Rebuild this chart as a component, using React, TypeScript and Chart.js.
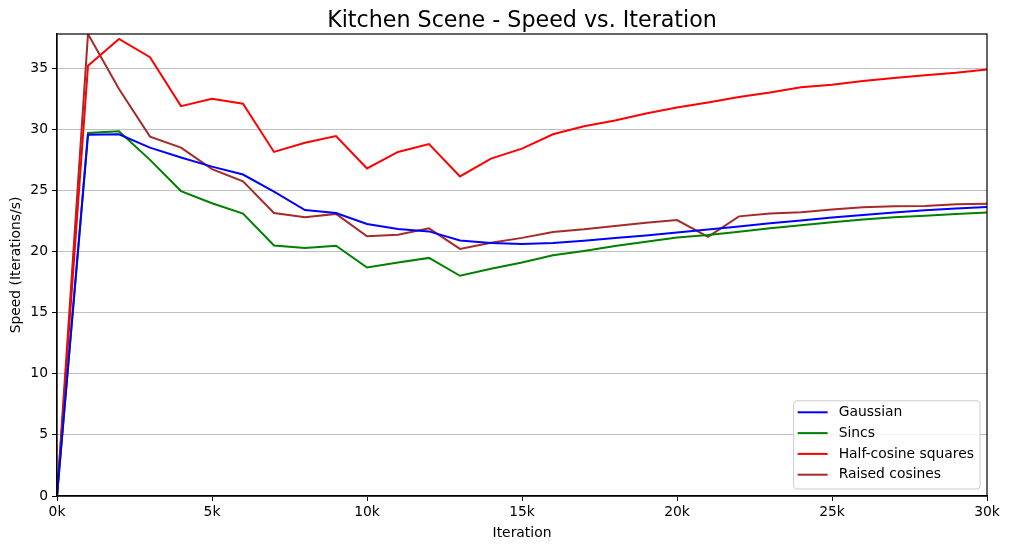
import React, { useEffect, useRef } from "react";
import { Chart, registerables } from "chart.js";

Chart.register(...registerables);

const iterations = [
  0, 1000, 2000, 3000, 4000, 5000, 6000, 7000, 8000, 9000, 10000,
  11000, 12000, 13000, 14000, 15000, 16000, 17000, 18000, 19000, 20000,
  21000, 22000, 23000, 24000, 25000, 26000, 27000, 28000, 29000, 30000,
];

const gaussian = [
  0, 29.55, 29.6, 28.5, 27.7, 26.95, 26.3, 24.9, 23.4, 23.15, 22.25,
  21.85, 21.65, 20.9, 20.7, 20.62, 20.7, 20.88, 21.1, 21.32, 21.55,
  21.8, 22.05, 22.32, 22.55, 22.78, 23.0, 23.2, 23.38, 23.52, 23.65,
];

const sincs = [
  0, 29.7, 29.85, 27.5, 24.95, 23.95, 23.1, 20.5, 20.3, 20.48, 18.7,
  19.1, 19.48, 18.02, 18.6, 19.1, 19.7, 20.05, 20.45, 20.8, 21.15,
  21.35, 21.62, 21.9, 22.15, 22.4, 22.62, 22.8, 22.92, 23.08, 23.2,
];

const halfCosineSquares = [
  0, 35.2, 37.4, 35.9, 31.9, 32.5, 32.1, 28.15, 28.9, 29.45, 26.8,
  28.15, 28.8, 26.15, 27.6, 28.42, 29.6, 30.25, 30.72, 31.3, 31.78,
  32.2, 32.65, 33.02, 33.45, 33.65, 33.95, 34.2, 34.42, 34.62, 34.9,
];

const raisedCosines = [
  0, 37.8, 33.3, 29.4, 28.5, 26.75, 25.75, 23.15, 22.8, 23.08, 21.25,
  21.38, 21.9, 20.22, 20.72, 21.12, 21.6, 21.82, 22.1, 22.35, 22.58,
  21.2, 22.88, 23.12, 23.22, 23.45, 23.62, 23.7, 23.72, 23.88, 23.92,
];

const seriesLabels = ["Gaussian", "Sincs", "Half-cosine squares", "Raised cosines"];
const seriesColors = ["#0000ff", "#008000", "#ff0000", "#a52a2a"];
const seriesValues = [gaussian, sincs, halfCosineSquares, raisedCosines];
const chartTitle = "Kitchen Scene - Speed vs. Iteration";

const FONT = '"DejaVu Sans", sans-serif';
const LABEL_SIZE = 13.89;

const framePlugin = {
  id: "frame",
  afterDatasetsDraw(chart: any) {
    const { ctx, chartArea } = chart;
    ctx.save();
    ctx.strokeStyle = "#000";
    ctx.lineWidth = 1.2;
    ctx.strokeRect(chartArea.left, chartArea.top, chartArea.right - chartArea.left, chartArea.bottom - chartArea.top);
    ctx.restore();
  },
};

const centeredTitlePlugin = {
  id: "centeredTitle",
  afterDraw(chart: any) {
    const { ctx, chartArea } = chart;
    ctx.save();
    ctx.font = `22.2px ${FONT}`;
    ctx.fillStyle = "#000";
    ctx.textAlign = "center";
    ctx.textBaseline = "alphabetic";
    ctx.fillText(chartTitle, (chartArea.left + chartArea.right) / 2, chartArea.top - 7.3);
    ctx.restore();
  },
};

const boxLegendPlugin = {
  id: "boxLegend",
  afterDraw(chart: any) {
    const { ctx, chartArea } = chart;
    const ds = chart.data.datasets;
    ctx.save();
    ctx.font = `${LABEL_SIZE}px ${FONT}`;
    const rowH = 20.8;
    const padL = 4;
    const lineLen = 30;
    const gap = 11;
    const padR = 6;
    const textW = Math.max(...ds.map((d: any) => ctx.measureText(d.label).width));
    const w = padL + lineLen + gap + textW + padR;
    const h = ds.length * rowH + 5;
    const x = chartArea.right - 7 - w;
    const y = chartArea.bottom - 7 - h;
    ctx.beginPath();
    if (ctx.roundRect) ctx.roundRect(x, y, w, h, 3);
    else ctx.rect(x, y, w, h);
    ctx.fillStyle = "rgba(255,255,255,0.8)";
    ctx.fill();
    ctx.strokeStyle = "#cccccc";
    ctx.lineWidth = 1;
    ctx.stroke();
    ds.forEach((d: any, i: number) => {
      const cy = y + 11.5 + i * rowH;
      ctx.beginPath();
      ctx.strokeStyle = d.borderColor;
      ctx.lineWidth = 2;
      ctx.moveTo(x + padL, cy);
      ctx.lineTo(x + padL + lineLen, cy);
      ctx.stroke();
      ctx.fillStyle = "#000";
      ctx.textBaseline = "middle";
      ctx.textAlign = "left";
      ctx.fillText(d.label, x + padL + lineLen + gap, cy);
    });
    ctx.restore();
  },
};

export default function App() {
  const ref = useRef<HTMLCanvasElement>(null);

  useEffect(() => {
    document.body.style.margin = "0";
    const canvas = ref.current;
    if (!canvas) return;
    const chart = new Chart(canvas, {
      type: "line",
      data: {
        datasets: seriesLabels.map((label, i) => ({
          label,
          data: iterations.map((x, j) => ({ x, y: seriesValues[i][j] })),
          borderColor: seriesColors[i],
          backgroundColor: seriesColors[i],
          borderWidth: 2,
          pointRadius: 0,
          tension: 0,
          fill: false,
        })),
      },
      options: {
        animation: false,
        responsive: false,
        devicePixelRatio: 1,
        layout: { padding: { left: 0, right: 22, top: 34, bottom: 0 } },
        plugins: {
          legend: { display: false },
          tooltip: { enabled: false },
          title: { display: false },
        },
        scales: {
          x: {
            type: "linear",
            min: 0,
            max: 30000,
            afterFit: (s: any) => {
              s.height = 53;
            },
            ticks: {
              stepSize: 5000,
              color: "#000",
              font: { family: FONT, size: LABEL_SIZE },
              padding: 3,
              maxRotation: 0,
              callback: (v: any) => `${Number(v) / 1000}k`,
            },
            grid: {
              drawOnChartArea: false,
              drawTicks: true,
              tickLength: 5,
              tickColor: "#000",
            },
            border: { color: "#000", width: 1.2 },
            title: {
              display: true,
              text: "Iteration",
              color: "#000",
              font: { family: FONT, size: LABEL_SIZE },
              padding: { top: 0, bottom: 7.5 },
            },
          },
          y: {
            type: "linear",
            min: 0,
            max: 37.8,
            afterFit: (s: any) => {
              s.width = 57;
            },
            afterBuildTicks: (s: any) => {
              s.ticks = s.ticks.filter((t: any) => t.value % 5 === 0);
            },
            ticks: {
              stepSize: 5,
              color: "#000",
              font: { family: FONT, size: LABEL_SIZE },
              padding: 4,
            },
            grid: {
              color: "#c0c0c0",
              lineWidth: 1,
              drawTicks: true,
              tickLength: 5,
              tickColor: "#000",
            },
            border: { color: "#000", width: 1.2 },
            title: {
              display: true,
              text: "Speed (Iterations/s)",
              color: "#000",
              font: { family: FONT, size: LABEL_SIZE },
              padding: { top: 8, bottom: 0 },
            },
          },
        },
      },
      plugins: [framePlugin, centeredTitlePlugin, boxLegendPlugin],
    });
    return () => chart.destroy();
  }, []);

  return (
    <div style={{ position: "fixed", left: 0, top: 0, width: 1009, height: 549 }}>
      <canvas ref={ref} width={1009} height={549} style={{ width: 1009, height: 549 }} />
    </div>
  );
}
